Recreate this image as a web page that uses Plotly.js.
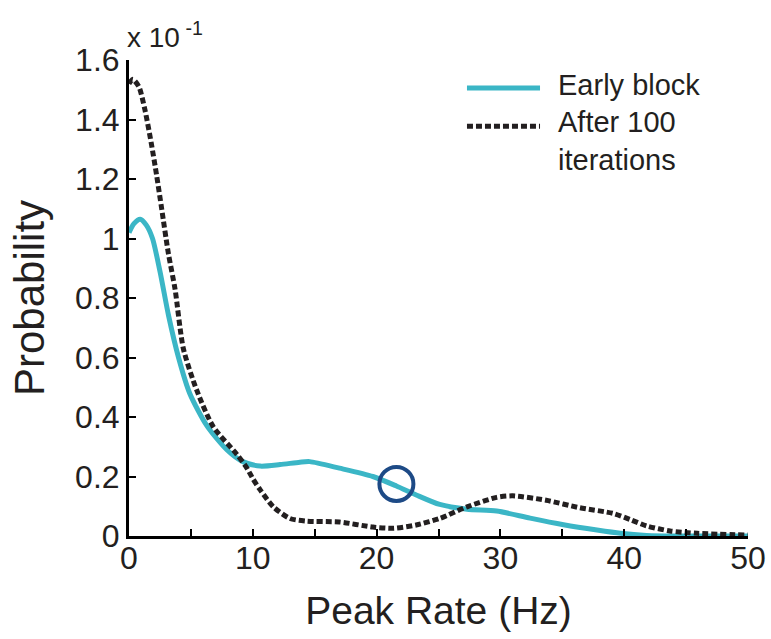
<!DOCTYPE html>
<html>
<head>
<meta charset="utf-8">
<script src="https://cdn.plot.ly/plotly-3.0.1.min.js"></script>
<style>html,body{margin:0;padding:0;background:#fff;}#chart{width:771px;height:639px;}</style>
</head>
<body>
<div id="chart"></div>
<script>
// Peak rate (Hz) and probability (x 10^-1)
const earlyX = [0, 0.4, 0.9, 1.4, 1.9, 2.5, 3.2, 4.0, 4.9, 6.3, 7.9, 9.2, 10.6, 12.2, 13.8, 14.6, 17.0, 19.7, 21.6, 23.2, 25.1, 27.3, 29.7, 32.4, 35.1, 37.8, 39.7, 41.8, 45, 50];
const earlyY = [1.02, 1.05, 1.065, 1.045, 1.0, 0.89, 0.74, 0.60, 0.48, 0.37, 0.29, 0.25, 0.235, 0.24, 0.248, 0.25, 0.228, 0.20, 0.168, 0.138, 0.106, 0.09, 0.084, 0.06, 0.038, 0.02, 0.009, 0.002, 0.0, 0.0];
const afterX = [0, 0.3, 0.8, 1.3, 1.8, 2.24, 2.64, 3.18, 3.72, 4.39, 5.47, 6.81, 8.7, 9.5, 10.04, 10.6, 11.66, 13.0, 14.35, 17.0, 19.7, 21.35, 23.2, 25.1, 27.3, 29.7, 31.0, 33.7, 36.4, 39.1, 40.5, 41.8, 43.7, 45.9, 50];
const afterY = [1.52, 1.535, 1.51, 1.43, 1.32, 1.21, 1.10, 0.95, 0.83, 0.63, 0.49, 0.367, 0.275, 0.23, 0.19, 0.155, 0.098, 0.059, 0.05, 0.047, 0.03, 0.026, 0.037, 0.059, 0.098, 0.13, 0.135, 0.12, 0.095, 0.076, 0.055, 0.034, 0.017, 0.009, 0.003];
const highlightX = [21.6];
const highlightY = [0.175];
const seriesNames = ["Early block", "After 100<br>iterations"];
const xTickVals = [0, 10, 20, 30, 40, 50];
const xTickText = ["0", "10", "20", "30", "40", "50"];
const yTickVals = [0, 0.2, 0.4, 0.6, 0.8, 1.0, 1.2, 1.4, 1.6];
const yTickText = ["0", "0.2", "0.4", "0.6", "0.8", "1", "1.2", "1.4", "1.6"];

const teal = "#3bb6c6";
const dark = "#231f20";
const FONT = "Liberation Sans, Arial, sans-serif";

const traces = [
  {x: earlyX, y: earlyY, name: seriesNames[0], mode: "lines", line: {color: teal, width: 5, shape: "spline", smoothing: 0.7}, showlegend: false, hoverinfo: "skip"},
  {x: afterX, y: afterY, name: seriesNames[1], mode: "lines", line: {color: dark, width: 5, dash: "6px,3px", shape: "spline", smoothing: 0.7}, showlegend: false, hoverinfo: "skip"},
  {x: highlightX, y: highlightY, mode: "markers", marker: {symbol: "circle-open", size: 34, line: {color: "#1d4a86", width: 4}, color: "#1d4a86"}, showlegend: false, hoverinfo: "skip", cliponaxis: false}
];

const layout = {
  width: 771, height: 639,
  margin: {l: 129, r: 23, t: 60, b: 103},
  paper_bgcolor: "#fff", plot_bgcolor: "#fff",
  font: {family: FONT, color: "#231f20"},
  showlegend: false,
  xaxis: {
    range: [0, 50], tickvals: xTickVals, ticktext: xTickText,
    ticks: "inside", ticklen: 7, tickwidth: 2, tickcolor: "#000",
    minor: {dtick: 5, tick0: 0, ticks: "inside", ticklen: 7, tickwidth: 2, tickcolor: "#000", showgrid: false},
    ticklabelstandoff: -8,
    showline: true, linecolor: "#000", linewidth: 3, showgrid: false, zeroline: false,
    tickfont: {size: 32, family: FONT, color: "#231f20"},
    title: {text: "Peak Rate (Hz)", font: {size: 39, family: FONT, color: "#231f20"}, standoff: 22}
  },
  yaxis: {
    range: [0, 1.6], tickvals: yTickVals, ticktext: yTickText,
    ticks: "inside", ticklen: 7, tickwidth: 2, tickcolor: "#000",
    showline: true, linecolor: "#000", linewidth: 3, showgrid: false, zeroline: false,
    tickfont: {size: 32, family: FONT, color: "#231f20"},
    title: {text: "Probability", font: {size: 42, family: FONT, color: "#231f20"}, standoff: 18}
  },
  shapes: [
    {type: "line", xref: "paper", yref: "paper", x0: 0.546, x1: 0.664, y0: 0.941, y1: 0.941, line: {color: teal, width: 5}},
    {type: "line", xref: "paper", yref: "paper", x0: 0.546, x1: 0.664, y0: 0.861, y1: 0.861, line: {color: dark, width: 5, dash: "6px,3px"}}
  ],
  annotations: [
    {xref: "paper", yref: "paper", x: 0.690, y: 0.947, xanchor: "left", yanchor: "middle", showarrow: false, align: "left", text: seriesNames[0], font: {size: 29, family: FONT, color: "#231f20"}},
    {xref: "paper", yref: "paper", x: 0.690, y: 0.907, xanchor: "left", yanchor: "top", showarrow: false, align: "left", text: seriesNames[1], font: {size: 29, family: FONT, color: "#231f20"}},
    {xref: "paper", yref: "paper", x: -0.006, y: 1.010, xanchor: "left", yanchor: "bottom", showarrow: false, align: "left", text: "x 10<sup> -1</sup>", font: {size: 28, family: FONT, color: "#231f20"}}
  ]
};

Plotly.newPlot("chart", traces, layout, {staticPlot: true, displayModeBar: false});
</script>
</body>
</html>
